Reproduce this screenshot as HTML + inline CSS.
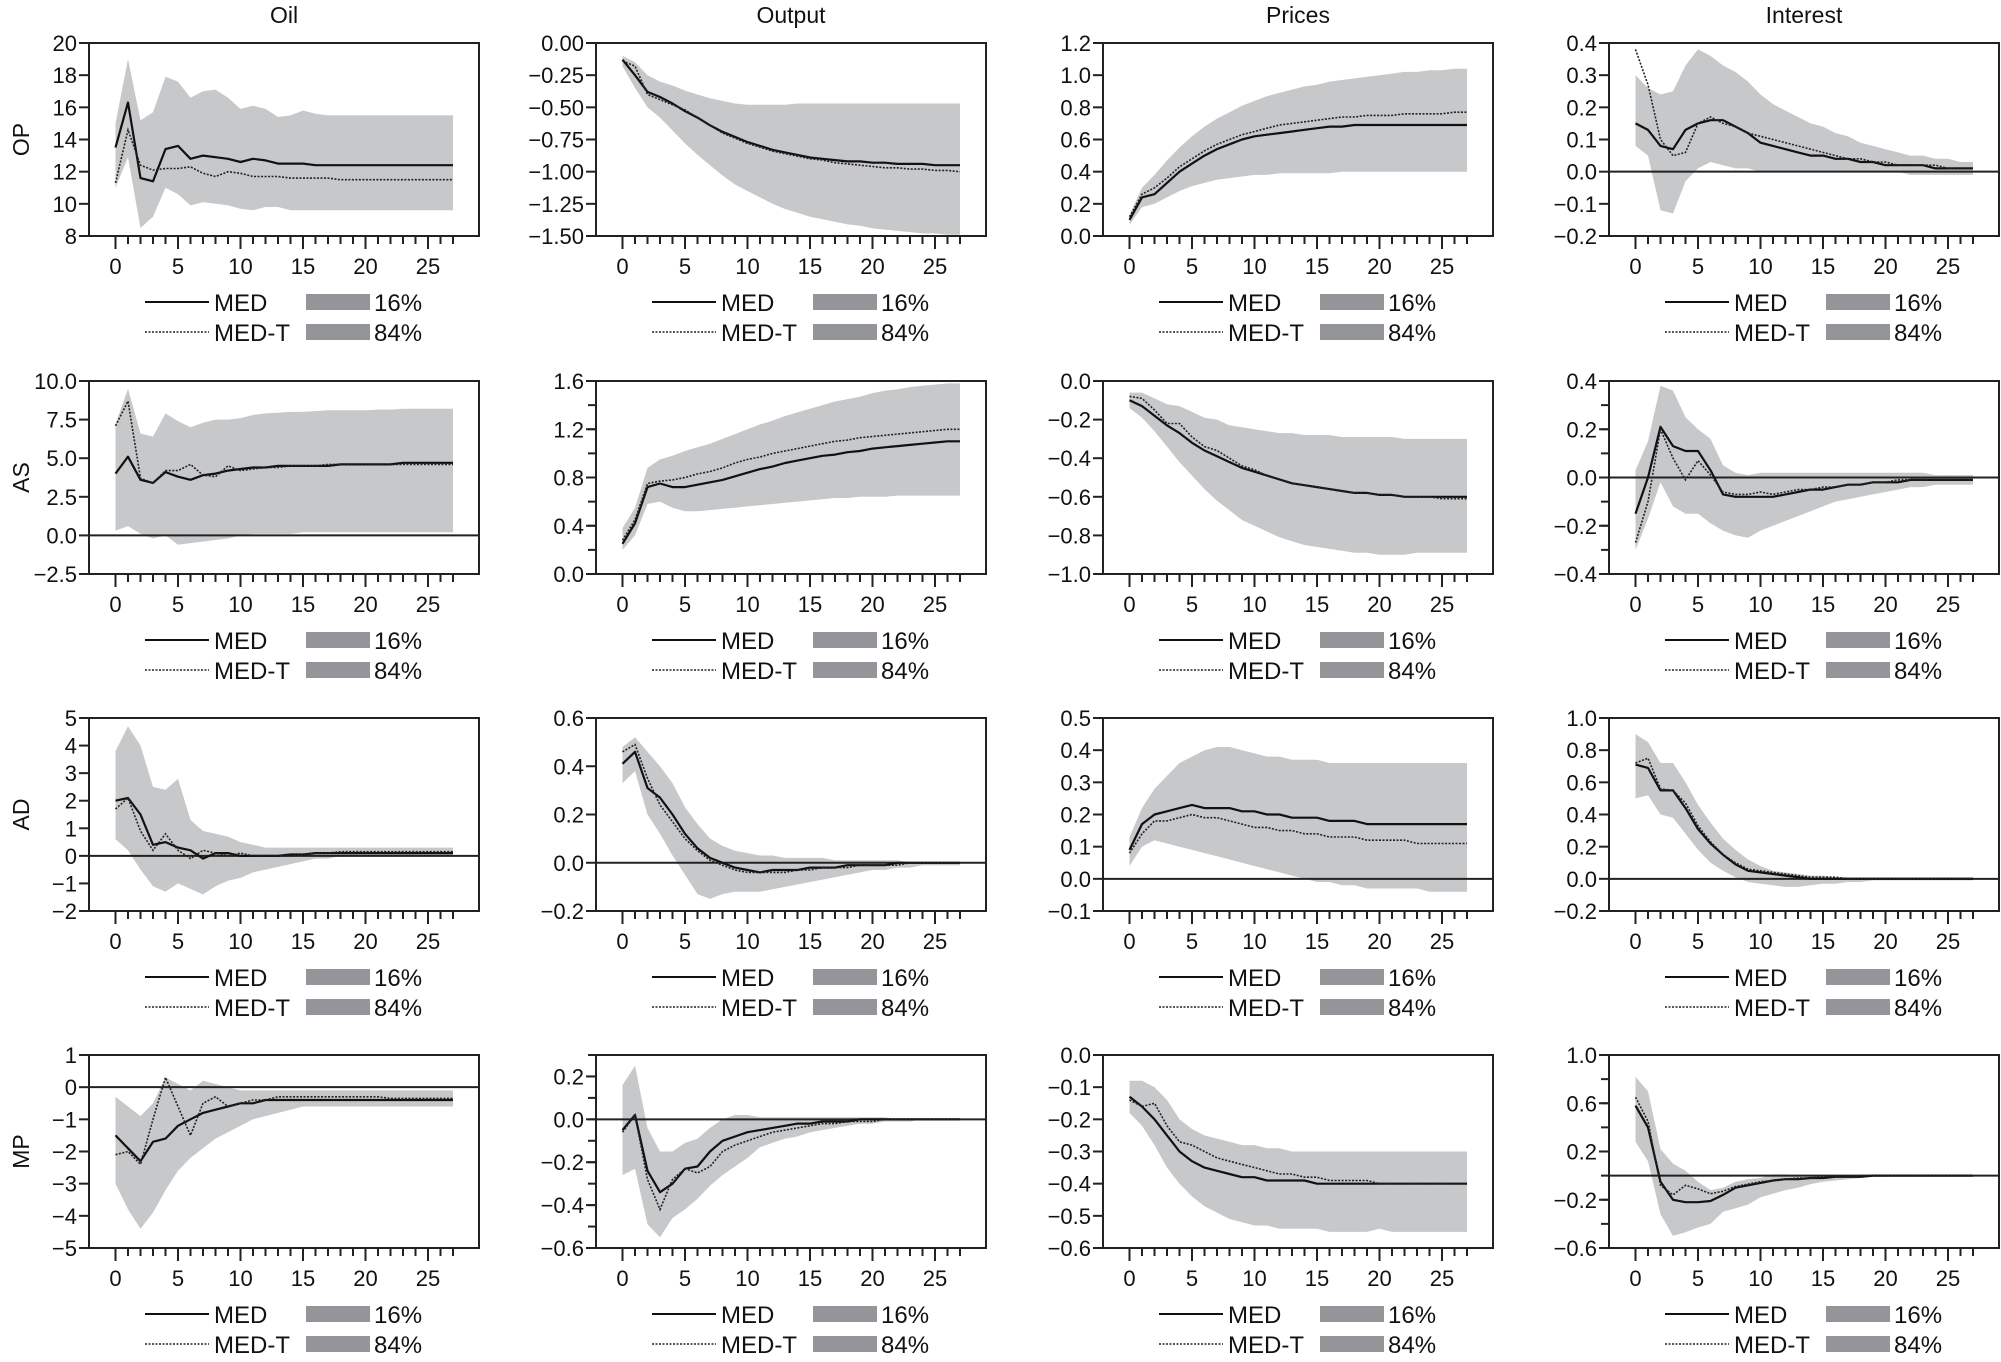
<!DOCTYPE html>
<html><head><meta charset="utf-8"><style>
html,body{margin:0;padding:0;background:#fff;}
svg{display:block;font-family:"Liberation Sans",Arial,sans-serif;}
</style></head><body>
<svg id="chart" xmlns="http://www.w3.org/2000/svg" width="2001" height="1362" viewBox="0 0 2001 1362"></svg>
<script>
// ---- data (horizons 0..27) ----
const horizons = [0,1,2,3,4,5,6,7,8,9,10,11,12,13,14,15,16,17,18,19,20,21,22,23,24,25,26,27];
const colTitles = ["Oil","Output","Prices","Interest"];
const rowTitles = ["OP","AS","AD","MP"];
const xTickValues = [0,5,10,15,20,25];

// OP row
const op_oil_med  = [13.5,16.3,11.6,11.4,13.4,13.6,12.8,13.0,12.9,12.8,12.6,12.8,12.7,12.5,12.5,12.5,12.4,12.4,12.4,12.4,12.4,12.4,12.4,12.4,12.4,12.4,12.4,12.4];
const op_oil_medt = [11.3,14.6,12.4,12.1,12.2,12.2,12.3,11.9,11.7,12.0,11.9,11.7,11.7,11.7,11.6,11.6,11.6,11.6,11.5,11.5,11.5,11.5,11.5,11.5,11.5,11.5,11.5,11.5];
const op_oil_hi   = [15.0,19.0,15.2,15.7,17.9,17.6,16.6,17.0,17.1,16.6,15.9,16.1,15.9,15.4,15.5,15.8,15.6,15.5,15.5,15.5,15.5,15.5,15.5,15.5,15.5,15.5,15.5,15.5];
const op_oil_lo   = [11.0,12.9,8.5,9.2,11.0,10.6,9.9,10.1,10.0,9.9,9.7,9.6,9.8,9.8,9.6,9.6,9.6,9.6,9.6,9.6,9.6,9.6,9.6,9.6,9.6,9.6,9.6,9.6];
const op_out_med  = [-0.13,-0.25,-0.38,-0.42,-0.47,-0.53,-0.58,-0.64,-0.69,-0.73,-0.77,-0.80,-0.83,-0.85,-0.87,-0.89,-0.90,-0.91,-0.92,-0.92,-0.93,-0.93,-0.94,-0.94,-0.94,-0.95,-0.95,-0.95];
const op_out_medt = [-0.14,-0.18,-0.40,-0.44,-0.48,-0.52,-0.58,-0.64,-0.70,-0.74,-0.78,-0.81,-0.84,-0.86,-0.88,-0.90,-0.91,-0.93,-0.94,-0.95,-0.96,-0.97,-0.97,-0.98,-0.98,-0.99,-0.99,-1.00];
const op_out_hi   = [-0.10,-0.15,-0.25,-0.30,-0.33,-0.37,-0.40,-0.43,-0.45,-0.47,-0.48,-0.48,-0.48,-0.48,-0.47,-0.47,-0.47,-0.47,-0.47,-0.47,-0.47,-0.47,-0.47,-0.47,-0.47,-0.47,-0.47,-0.47];
const op_out_lo   = [-0.18,-0.35,-0.50,-0.58,-0.68,-0.78,-0.87,-0.95,-1.03,-1.10,-1.15,-1.20,-1.25,-1.29,-1.32,-1.35,-1.37,-1.39,-1.41,-1.42,-1.44,-1.45,-1.46,-1.47,-1.48,-1.48,-1.49,-1.49];
const op_pri_med  = [0.10,0.24,0.26,0.33,0.40,0.45,0.50,0.54,0.57,0.60,0.62,0.63,0.64,0.65,0.66,0.67,0.68,0.68,0.69,0.69,0.69,0.69,0.69,0.69,0.69,0.69,0.69,0.69];
const op_pri_medt = [0.12,0.26,0.30,0.36,0.43,0.48,0.53,0.57,0.60,0.63,0.65,0.67,0.69,0.70,0.71,0.72,0.73,0.74,0.74,0.75,0.75,0.75,0.76,0.76,0.76,0.76,0.77,0.77];
const op_pri_hi   = [0.13,0.30,0.38,0.47,0.55,0.62,0.68,0.73,0.77,0.81,0.84,0.87,0.89,0.91,0.93,0.94,0.96,0.97,0.98,0.99,1.00,1.01,1.02,1.02,1.03,1.03,1.04,1.04];
const op_pri_lo   = [0.07,0.18,0.20,0.24,0.28,0.31,0.33,0.35,0.36,0.37,0.38,0.38,0.39,0.39,0.39,0.39,0.39,0.40,0.40,0.40,0.40,0.40,0.40,0.40,0.40,0.40,0.40,0.40];
const op_int_med  = [0.15,0.13,0.08,0.07,0.13,0.15,0.16,0.16,0.14,0.12,0.09,0.08,0.07,0.06,0.05,0.05,0.04,0.04,0.03,0.03,0.02,0.02,0.02,0.02,0.01,0.01,0.01,0.01];
const op_int_medt = [0.38,0.27,0.10,0.05,0.06,0.15,0.17,0.15,0.14,0.12,0.11,0.10,0.09,0.08,0.07,0.06,0.05,0.04,0.04,0.03,0.03,0.02,0.02,0.02,0.02,0.01,0.01,0.01];
const op_int_hi   = [0.30,0.26,0.24,0.25,0.33,0.38,0.36,0.33,0.31,0.28,0.24,0.21,0.19,0.17,0.15,0.14,0.12,0.11,0.09,0.08,0.07,0.06,0.05,0.05,0.04,0.04,0.03,0.03];
const op_int_lo   = [0.08,0.05,-0.12,-0.13,-0.03,0.01,0.03,0.02,0.01,0.01,0.00,0.00,0.00,0.00,0.00,0.00,0.00,0.00,0.00,0.00,0.00,0.00,-0.01,-0.01,-0.01,-0.01,-0.01,-0.01];

// AS row
const as_oil_med  = [4.0,5.1,3.6,3.4,4.1,3.8,3.6,3.9,4.0,4.2,4.3,4.4,4.4,4.5,4.5,4.5,4.5,4.5,4.6,4.6,4.6,4.6,4.6,4.7,4.7,4.7,4.7,4.7];
const as_oil_medt = [7.1,8.7,3.7,3.4,4.2,4.2,4.6,3.9,3.8,4.5,4.2,4.3,4.4,4.4,4.5,4.5,4.5,4.6,4.6,4.6,4.6,4.6,4.6,4.6,4.6,4.6,4.6,4.6];
const as_oil_hi   = [7.2,9.5,6.6,6.4,7.9,7.4,7.0,7.3,7.5,7.5,7.6,7.8,7.9,7.95,8.0,8.0,8.05,8.1,8.1,8.1,8.1,8.15,8.15,8.2,8.2,8.2,8.2,8.2];
const as_oil_lo   = [0.3,0.6,0.1,-0.2,0.0,-0.6,-0.5,-0.4,-0.3,-0.2,0.0,0.1,0.1,0.1,0.1,0.2,0.2,0.2,0.2,0.2,0.2,0.2,0.2,0.2,0.2,0.2,0.2,0.2];
const as_out_med  = [0.25,0.42,0.72,0.75,0.72,0.72,0.74,0.76,0.78,0.81,0.84,0.87,0.89,0.92,0.94,0.96,0.98,0.99,1.01,1.02,1.04,1.05,1.06,1.07,1.08,1.09,1.10,1.10];
const as_out_medt = [0.28,0.45,0.75,0.77,0.78,0.80,0.83,0.85,0.88,0.92,0.95,0.97,1.00,1.02,1.04,1.06,1.08,1.10,1.11,1.13,1.14,1.15,1.16,1.17,1.18,1.19,1.20,1.20];
const as_out_hi   = [0.38,0.55,0.88,0.95,0.98,1.02,1.05,1.08,1.12,1.16,1.20,1.24,1.27,1.31,1.34,1.37,1.40,1.43,1.45,1.47,1.50,1.52,1.53,1.55,1.56,1.57,1.58,1.58];
const as_out_lo   = [0.20,0.32,0.58,0.60,0.55,0.52,0.52,0.53,0.54,0.55,0.56,0.57,0.58,0.59,0.60,0.61,0.62,0.63,0.63,0.64,0.64,0.64,0.65,0.65,0.65,0.65,0.65,0.65];
const as_pri_med  = [-0.10,-0.13,-0.18,-0.23,-0.27,-0.32,-0.36,-0.39,-0.42,-0.45,-0.47,-0.49,-0.51,-0.53,-0.54,-0.55,-0.56,-0.57,-0.58,-0.58,-0.59,-0.59,-0.60,-0.60,-0.60,-0.60,-0.60,-0.60];
const as_pri_medt = [-0.08,-0.09,-0.15,-0.22,-0.22,-0.29,-0.34,-0.36,-0.40,-0.44,-0.46,-0.49,-0.51,-0.53,-0.54,-0.55,-0.56,-0.57,-0.58,-0.58,-0.59,-0.59,-0.60,-0.60,-0.60,-0.61,-0.61,-0.61];
const as_pri_hi   = [-0.06,-0.06,-0.09,-0.12,-0.13,-0.16,-0.19,-0.20,-0.23,-0.24,-0.25,-0.26,-0.27,-0.27,-0.28,-0.28,-0.28,-0.29,-0.29,-0.29,-0.29,-0.29,-0.30,-0.30,-0.30,-0.30,-0.30,-0.30];
const as_pri_lo   = [-0.14,-0.19,-0.26,-0.34,-0.42,-0.49,-0.56,-0.62,-0.67,-0.72,-0.75,-0.78,-0.81,-0.83,-0.85,-0.86,-0.87,-0.88,-0.89,-0.89,-0.90,-0.90,-0.90,-0.89,-0.89,-0.89,-0.89,-0.89];
const as_int_med  = [-0.15,0.00,0.21,0.13,0.11,0.11,0.03,-0.07,-0.08,-0.08,-0.08,-0.08,-0.07,-0.06,-0.05,-0.05,-0.04,-0.03,-0.03,-0.02,-0.02,-0.02,-0.01,-0.01,-0.01,-0.01,-0.01,-0.01];
const as_int_medt = [-0.27,-0.10,0.20,0.08,-0.01,0.07,0.01,-0.06,-0.07,-0.07,-0.06,-0.07,-0.06,-0.05,-0.05,-0.04,-0.04,-0.03,-0.03,-0.02,-0.02,-0.01,-0.01,-0.01,-0.01,-0.01,-0.01,-0.01];
const as_int_hi   = [0.03,0.15,0.38,0.36,0.25,0.20,0.16,0.05,0.02,0.01,0.02,0.02,0.02,0.02,0.02,0.02,0.02,0.02,0.02,0.02,0.02,0.02,0.02,0.02,0.01,0.01,0.01,0.01];
const as_int_lo   = [-0.30,-0.17,-0.02,-0.12,-0.15,-0.15,-0.19,-0.22,-0.24,-0.25,-0.22,-0.20,-0.18,-0.16,-0.14,-0.12,-0.10,-0.09,-0.08,-0.07,-0.06,-0.05,-0.04,-0.04,-0.03,-0.03,-0.03,-0.03];

// AD row
const ad_oil_med  = [2.0,2.1,1.5,0.4,0.5,0.3,0.2,-0.1,0.1,0.1,0.0,0.0,0.0,0.0,0.05,0.05,0.1,0.1,0.1,0.1,0.1,0.1,0.1,0.1,0.1,0.1,0.1,0.1];
const ad_oil_medt = [1.7,2.1,0.9,0.2,0.8,0.2,-0.1,0.2,0.1,0.0,0.1,0.0,0.0,0.0,0.0,0.05,0.1,0.1,0.15,0.15,0.15,0.15,0.15,0.15,0.15,0.15,0.15,0.15];
const ad_oil_hi   = [3.8,4.7,4.0,2.5,2.4,2.8,1.3,0.9,0.8,0.7,0.5,0.4,0.3,0.3,0.3,0.3,0.3,0.3,0.3,0.3,0.3,0.3,0.3,0.3,0.3,0.3,0.3,0.3];
const ad_oil_lo   = [0.6,0.2,-0.5,-1.1,-1.3,-1.0,-1.2,-1.4,-1.1,-0.9,-0.8,-0.6,-0.5,-0.4,-0.3,-0.2,-0.1,-0.1,0.0,0.0,0.0,0.0,0.0,0.0,0.0,0.0,0.0,0.0];
const ad_out_med  = [0.41,0.46,0.31,0.27,0.20,0.12,0.06,0.02,0.00,-0.02,-0.03,-0.04,-0.03,-0.03,-0.03,-0.02,-0.02,-0.02,-0.01,-0.01,-0.01,-0.01,0.00,0.00,0.00,0.00,0.00,0.00];
const ad_out_medt = [0.46,0.49,0.35,0.24,0.17,0.10,0.05,0.01,-0.01,-0.03,-0.04,-0.04,-0.04,-0.04,-0.03,-0.03,-0.02,-0.02,-0.02,-0.01,-0.01,-0.01,-0.01,0.00,0.00,0.00,0.00,0.00];
const ad_out_hi   = [0.48,0.52,0.46,0.40,0.33,0.23,0.16,0.10,0.07,0.05,0.04,0.03,0.03,0.02,0.02,0.02,0.02,0.01,0.01,0.01,0.01,0.01,0.01,0.00,0.00,0.00,0.00,0.00];
const ad_out_lo   = [0.33,0.38,0.20,0.12,0.03,-0.05,-0.13,-0.15,-0.13,-0.12,-0.12,-0.12,-0.11,-0.10,-0.09,-0.08,-0.07,-0.06,-0.05,-0.04,-0.03,-0.03,-0.02,-0.02,-0.01,-0.01,-0.01,-0.01];
const ad_pri_med  = [0.09,0.17,0.20,0.21,0.22,0.23,0.22,0.22,0.22,0.21,0.21,0.20,0.20,0.19,0.19,0.19,0.18,0.18,0.18,0.17,0.17,0.17,0.17,0.17,0.17,0.17,0.17,0.17];
const ad_pri_medt = [0.08,0.14,0.18,0.18,0.19,0.20,0.19,0.19,0.18,0.17,0.16,0.16,0.15,0.15,0.14,0.14,0.13,0.13,0.13,0.12,0.12,0.12,0.12,0.11,0.11,0.11,0.11,0.11];
const ad_pri_hi   = [0.13,0.22,0.28,0.32,0.36,0.38,0.40,0.41,0.41,0.40,0.39,0.38,0.38,0.37,0.37,0.37,0.36,0.36,0.36,0.36,0.36,0.36,0.36,0.36,0.36,0.36,0.36,0.36];
const ad_pri_lo   = [0.04,0.10,0.12,0.11,0.10,0.09,0.08,0.07,0.06,0.05,0.04,0.03,0.02,0.01,0.00,-0.01,-0.01,-0.02,-0.02,-0.03,-0.03,-0.03,-0.03,-0.03,-0.04,-0.04,-0.04,-0.04];
const ad_int_med  = [0.71,0.69,0.55,0.55,0.44,0.31,0.22,0.15,0.09,0.05,0.04,0.03,0.02,0.01,0.00,0.00,0.00,0.00,0.00,0.00,0.00,0.00,0.00,0.00,0.00,0.00,0.00,0.00];
const ad_int_medt = [0.72,0.75,0.56,0.55,0.47,0.33,0.23,0.15,0.10,0.06,0.05,0.04,0.03,0.02,0.01,0.01,0.01,0.00,0.00,0.00,0.00,0.00,0.00,0.00,0.00,0.00,0.00,0.00];
const ad_int_hi   = [0.90,0.85,0.72,0.72,0.60,0.46,0.35,0.25,0.18,0.12,0.08,0.05,0.04,0.03,0.02,0.02,0.01,0.01,0.01,0.01,0.01,0.01,0.01,0.01,0.01,0.01,0.01,0.01];
const ad_int_lo   = [0.50,0.52,0.40,0.38,0.28,0.18,0.10,0.05,0.01,-0.02,-0.03,-0.04,-0.05,-0.05,-0.04,-0.03,-0.03,-0.02,-0.02,-0.01,-0.01,-0.01,-0.01,-0.01,-0.01,-0.01,-0.01,-0.01];

// MP row
const mp_oil_med  = [-1.5,-1.9,-2.3,-1.7,-1.6,-1.2,-1.0,-0.8,-0.7,-0.6,-0.5,-0.5,-0.4,-0.4,-0.4,-0.4,-0.4,-0.4,-0.4,-0.4,-0.4,-0.4,-0.4,-0.4,-0.4,-0.4,-0.4,-0.4];
const mp_oil_medt = [-2.1,-2.0,-2.4,-1.0,0.3,-0.6,-1.5,-0.5,-0.3,-0.6,-0.5,-0.4,-0.4,-0.3,-0.3,-0.3,-0.3,-0.3,-0.3,-0.3,-0.3,-0.3,-0.35,-0.35,-0.35,-0.35,-0.35,-0.35];
const mp_oil_hi   = [-0.3,-0.6,-0.9,-0.5,0.3,0.1,-0.1,0.2,0.1,0.0,-0.1,-0.1,-0.1,-0.1,-0.1,-0.1,-0.1,-0.1,-0.1,-0.1,-0.1,-0.1,-0.1,-0.1,-0.1,-0.1,-0.1,-0.1];
const mp_oil_lo   = [-3.0,-3.8,-4.4,-3.9,-3.2,-2.6,-2.2,-1.9,-1.6,-1.4,-1.2,-1.0,-0.9,-0.8,-0.7,-0.6,-0.6,-0.6,-0.6,-0.6,-0.6,-0.6,-0.6,-0.6,-0.6,-0.6,-0.6,-0.6];
const mp_out_med  = [-0.05,0.02,-0.24,-0.34,-0.30,-0.23,-0.22,-0.15,-0.10,-0.08,-0.06,-0.05,-0.04,-0.03,-0.02,-0.02,-0.01,-0.01,-0.01,0,0,0,0,0,0,0,0,0];
const mp_out_medt = [-0.06,0.02,-0.28,-0.42,-0.28,-0.23,-0.25,-0.22,-0.15,-0.12,-0.10,-0.08,-0.06,-0.05,-0.04,-0.03,-0.02,-0.02,-0.01,-0.01,-0.01,0,0,0,0,0,0,0];
const mp_out_hi   = [0.16,0.25,-0.04,-0.15,-0.15,-0.11,-0.09,-0.04,0.0,0.02,0.02,0.01,0.01,0.01,0.01,0.01,0.01,0.01,0.01,0.01,0.01,0.01,0.0,0.0,0.0,0.0,0.0,0.0];
const mp_out_lo   = [-0.26,-0.23,-0.49,-0.55,-0.46,-0.42,-0.37,-0.31,-0.26,-0.22,-0.18,-0.13,-0.11,-0.09,-0.08,-0.06,-0.05,-0.04,-0.03,-0.02,-0.02,-0.01,-0.01,-0.01,0,0,0,0];
const mp_pri_med  = [-0.13,-0.16,-0.20,-0.25,-0.30,-0.33,-0.35,-0.36,-0.37,-0.38,-0.38,-0.39,-0.39,-0.39,-0.39,-0.40,-0.40,-0.40,-0.40,-0.40,-0.40,-0.40,-0.40,-0.40,-0.40,-0.40,-0.40,-0.40];
const mp_pri_medt = [-0.14,-0.16,-0.15,-0.22,-0.27,-0.28,-0.30,-0.32,-0.33,-0.34,-0.35,-0.36,-0.37,-0.37,-0.38,-0.38,-0.39,-0.39,-0.39,-0.39,-0.40,-0.40,-0.40,-0.40,-0.40,-0.40,-0.40,-0.40];
const mp_pri_hi   = [-0.08,-0.08,-0.10,-0.14,-0.20,-0.23,-0.25,-0.26,-0.27,-0.28,-0.28,-0.29,-0.29,-0.30,-0.30,-0.30,-0.30,-0.30,-0.30,-0.30,-0.30,-0.30,-0.30,-0.30,-0.30,-0.30,-0.30,-0.30];
const mp_pri_lo   = [-0.18,-0.22,-0.28,-0.35,-0.40,-0.44,-0.47,-0.49,-0.51,-0.52,-0.53,-0.53,-0.54,-0.54,-0.54,-0.54,-0.55,-0.55,-0.55,-0.55,-0.54,-0.55,-0.55,-0.55,-0.55,-0.55,-0.55,-0.55];
const mp_int_med  = [0.58,0.40,-0.05,-0.20,-0.22,-0.22,-0.21,-0.16,-0.10,-0.08,-0.06,-0.04,-0.03,-0.03,-0.02,-0.02,-0.01,-0.01,-0.01,0,0,0,0,0,0,0,0,0];
const mp_int_medt = [0.65,0.45,-0.08,-0.16,-0.08,-0.11,-0.15,-0.13,-0.09,-0.07,-0.05,-0.04,-0.03,-0.02,-0.02,-0.01,-0.01,-0.01,0,0,0,0,0,0,0,0,0,0];
const mp_int_hi   = [0.82,0.70,0.22,0.10,0.04,-0.05,-0.12,-0.10,-0.05,-0.03,-0.02,0.01,0.01,0.0,0.0,0.0,0.0,0.0,0.0,0,0,0,0,0,0,0,0,0];
const mp_int_lo   = [0.28,0.12,-0.32,-0.50,-0.47,-0.43,-0.40,-0.30,-0.27,-0.24,-0.18,-0.15,-0.12,-0.10,-0.07,-0.05,-0.04,-0.03,-0.02,-0.01,-0.01,0,0,0,0,0,0,0];

// y axis definitions per panel: domain and tick values
const yDomains = [
  [[8,20],[-1.5,0],[0,1.2],[-0.2,0.4]],
  [[-2.5,10],[0,1.6],[-1,0],[-0.4,0.4]],
  [[-2,5],[-0.2,0.6],[-0.1,0.5],[-0.2,1.0]],
  [[-5,1],[-0.6,0.3],[-0.6,0],[-0.6,1.0]]
];
const yTickVals = [
  [[8,10,12,14,16,18,20],[-1.5,-1.25,-1,-0.75,-0.5,-0.25,0],[0,0.2,0.4,0.6,0.8,1.0,1.2],[-0.2,-0.1,0,0.1,0.2,0.3,0.4]],
  [[-2.5,0,2.5,5,7.5,10],[0,0.4,0.8,1.2,1.6],[-1,-0.8,-0.6,-0.4,-0.2,0],[-0.4,-0.2,0,0.2,0.4]],
  [[-2,-1,0,1,2,3,4,5],[-0.2,0,0.2,0.4,0.6],[-0.1,0,0.1,0.2,0.3,0.4,0.5],[-0.2,0,0.2,0.4,0.6,0.8,1.0]],
  [[-5,-4,-3,-2,-1,0,1],[-0.6,-0.4,-0.2,0,0.2],[-0.6,-0.5,-0.4,-0.3,-0.2,-0.1,0],[-0.6,-0.2,0.2,0.6,1.0]]
];
const yDecimals = [[0,2,1,1],[1,1,1,1],[0,1,1,1],[0,1,1,1]];
const yMinorStep = [[0,0,0,0],[0,0.2,0,0.1],[0,0,0,0],[0,0.1,0,0.2]];

const series = {
  op:{oil:[op_oil_med,op_oil_medt,op_oil_hi,op_oil_lo],out:[op_out_med,op_out_medt,op_out_hi,op_out_lo],pri:[op_pri_med,op_pri_medt,op_pri_hi,op_pri_lo],int:[op_int_med,op_int_medt,op_int_hi,op_int_lo]},
  as:{oil:[as_oil_med,as_oil_medt,as_oil_hi,as_oil_lo],out:[as_out_med,as_out_medt,as_out_hi,as_out_lo],pri:[as_pri_med,as_pri_medt,as_pri_hi,as_pri_lo],int:[as_int_med,as_int_medt,as_int_hi,as_int_lo]},
  ad:{oil:[ad_oil_med,ad_oil_medt,ad_oil_hi,ad_oil_lo],out:[ad_out_med,ad_out_medt,ad_out_hi,ad_out_lo],pri:[ad_pri_med,ad_pri_medt,ad_pri_hi,ad_pri_lo],int:[ad_int_med,ad_int_medt,ad_int_hi,ad_int_lo]},
  mp:{oil:[mp_oil_med,mp_oil_medt,mp_oil_hi,mp_oil_lo],out:[mp_out_med,mp_out_medt,mp_out_hi,mp_out_lo],pri:[mp_pri_med,mp_pri_medt,mp_pri_hi,mp_pri_lo],int:[mp_int_med,mp_int_medt,mp_int_hi,mp_int_lo]}
};
const rowKeys = ["op","as","ad","mp"];
const colKeys = ["oil","out","pri","int"];

// ---- layout ----
const NS = "http://www.w3.org/2000/svg";
const svg = document.getElementById("chart");
const colLeft = [89,596,1103,1609];
const rowTop = [43,381,718,1055];
const boxW = 390, boxH = 193;
const unitPx = 12.5, x0Off = 26.5;

function mk(tag, attrs, parent){
  const e = document.createElementNS(NS, tag);
  for (const k in attrs) e.setAttribute(k, attrs[k]);
  (parent||svg).appendChild(e);
  return e;
}
function fmt(v, d){
  const s = Math.abs(v).toFixed(d);
  return (v < 0 && parseFloat(s) !== 0 ? "\u2212" : "") + s;
}

colTitles.forEach((t,c)=>{
  const e = mk("text",{x:colLeft[c]+boxW/2, y:23, "text-anchor":"middle","font-size":23, fill:"#111"});
  e.textContent = t;
  
  
});
rowTitles.forEach((t,r)=>{
  const cy = rowTop[r] + boxH/2;
  const e = mk("text",{x:0,y:0,transform:`translate(29,${cy}) rotate(-90)`,"text-anchor":"middle","font-size":23,fill:"#111"});
  e.textContent = t;
  
  
});

for (let r=0;r<4;r++){
  for (let c=0;c<4;c++){
    const L = colLeft[c], T = rowTop[r], B = T + boxH;
    const [ymin,ymax] = yDomains[r][c];
    const xs = v => L + x0Off + v*unitPx;
    const ys = v => B - (v - ymin)/(ymax - ymin)*boxH;
    const g = mk("g",{});
    
    
    const [med, medt, hi, lo] = series[rowKeys[r]][colKeys[c]];
    let d = "M" + horizons.map(h => xs(h).toFixed(1)+","+ys(hi[h]).toFixed(1)).join("L");
    d += "L" + horizons.slice().reverse().map(h => xs(h).toFixed(1)+","+ys(lo[h]).toFixed(1)).join("L") + "Z";
    const band = mk("path",{d:d, fill:"#c7c8ca", stroke:"none"}, g);
    
    
    if (ymin < 0 && ymax > 0){
      const z = mk("line",{x1:L,x2:L+boxW,y1:ys(0),y2:ys(0),stroke:"#222","stroke-width":2}, g);
      
      
    }
    const pm = mk("path",{d:"M"+horizons.map(h=>xs(h).toFixed(1)+","+ys(med[h]).toFixed(1)).join("L"),fill:"none",stroke:"#111","stroke-width":2.2,"stroke-linejoin":"round"}, g);
    
    
    const pt = mk("path",{d:"M"+horizons.map(h=>xs(h).toFixed(1)+","+ys(medt[h]).toFixed(1)).join("L"),fill:"none",stroke:"#222","stroke-width":1.6,"stroke-dasharray":"2,1.5"}, g);
    
    
    const box = mk("rect",{x:L,y:T,width:boxW,height:boxH,fill:"none",stroke:"#222","stroke-width":2}, g);
    
    
    horizons.forEach(h=>{
      const major = h % 5 === 0;
      mk("line",{x1:xs(h),x2:xs(h),y1:B,y2:B+(major?13:8),stroke:"#222","stroke-width":2}, g);
    });
    xTickValues.forEach(v=>{
      const t = mk("text",{x:xs(v),y:B+38,"text-anchor":"middle","font-size":22,fill:"#111"}, g);
      t.textContent = v;
      
      
    });
    const ms = yMinorStep[r][c];
    if (ms){
      const n = Math.round((ymax-ymin)/ms);
      for (let i=0;i<=n;i++){ const v = ymin + i*ms; mk("line",{x1:L-8,x2:L,y1:ys(v),y2:ys(v),stroke:"#222","stroke-width":2}, g); }
    }
    yTickVals[r][c].forEach(v=>{
      mk("line",{x1:L-10,x2:L,y1:ys(v),y2:ys(v),stroke:"#222","stroke-width":2}, g);
      const t = mk("text",{x:L-12,y:ys(v)+8,"text-anchor":"end","font-size":22,fill:"#111"}, g);
      t.textContent = fmt(v, yDecimals[r][c]);
      
      
    });
    const ly1 = B + 66, ly2 = B + 96;
    const lg = mk("g",{}, g);
    
    
    mk("line",{x1:L+56,x2:L+120,y1:ly1,y2:ly1,stroke:"#111","stroke-width":2}, lg);
    mk("line",{x1:L+56,x2:L+120,y1:ly2,y2:ly2,stroke:"#222","stroke-width":1.5,"stroke-dasharray":"2,1.5"}, lg);
    const t1 = mk("text",{x:L+125,y:ly1+9,"font-size":24,fill:"#111"}, lg); t1.textContent="MED";
    
    
    const t2 = mk("text",{x:L+125,y:ly2+9,"font-size":24,fill:"#111"}, lg); t2.textContent="MED-T";
    
    
    mk("rect",{x:L+217,y:ly1-8,width:64,height:16,fill:"#939598"}, lg);
    mk("rect",{x:L+217,y:ly2-8,width:64,height:16,fill:"#939598"}, lg);
    const t3 = mk("text",{x:L+285,y:ly1+9,"font-size":24,fill:"#111"}, lg); t3.textContent="16%";
    
    
    const t4 = mk("text",{x:L+285,y:ly2+9,"font-size":24,fill:"#111"}, lg); t4.textContent="84%";
    
    
  }
}
</script>
</body></html>
